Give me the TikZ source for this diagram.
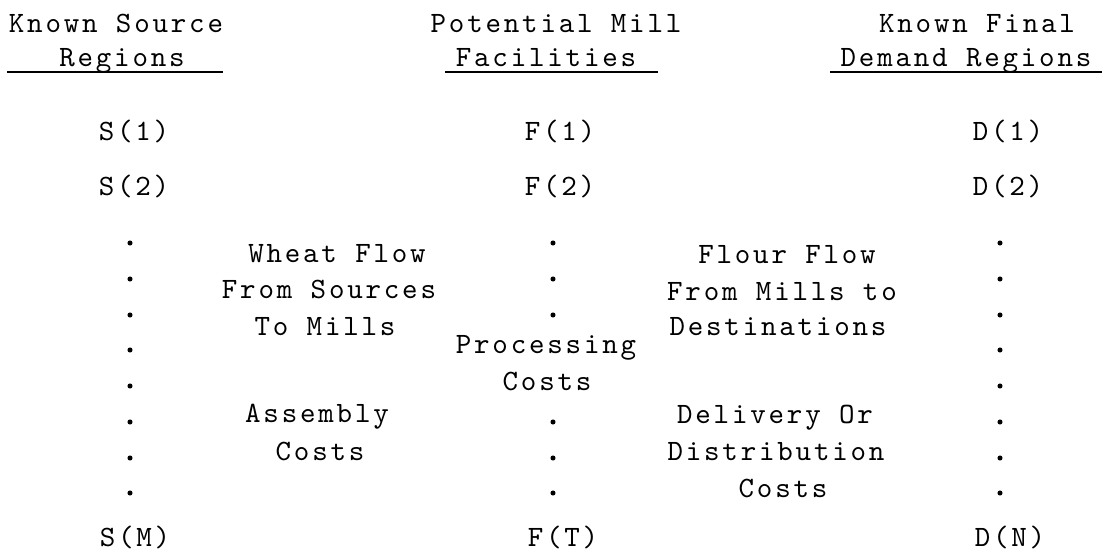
\documentclass[tikz,border=0pt]{standalone}
\usepackage{fontspec}
\newfontfamily\typefont{lmmono10-regular.otf}[LetterSpace=9.5]
\usepackage{tikz}
\tikzset{
  typed/.style={font=\typefont\fontsize{21}{25}\selectfont,inner sep=0pt,anchor=base},
  uline/.style={line width=1.1pt},
}

\begin{document}
\begin{tikzpicture}[x=0.025cm,y=-0.025cm]
    \useasboundingbox (0,0) rectangle (1111,554);
    % column heads
    \node[typed] (srchead) at (116,32){Known Source};
    \node[typed] (srcsub) at (122,66){Regions};
    \draw[uline] (7,72)--(223,72);
    \node[typed] (millhead) at (556,32){Potential Mill};
    \node[typed] (millsub) at (546,66){Facilities};
    \draw[uline] (445,72)--(658,72);
    \node[typed] (demhead) at (977,32){Known Final};
    \node[typed] (demsub) at (966,66){Demand Regions};
    \draw[uline] (830,72)--(1102,72);
    % sources
    \node[typed] (s1) at (134,140){S(1)};
    \node[typed] (s2) at (134,195){S(2)};
    \fill(130,243) circle(1.8pt);
    \fill(130,279) circle(1.8pt);
    \fill(130,315) circle(1.8pt);
    \fill(130,350) circle(1.8pt);
    \fill(130,386) circle(1.8pt);
    \fill(130,422) circle(1.8pt);
    \fill(130,458) circle(1.8pt);
    \fill(130,493) circle(1.8pt);
    \node[typed] (sm) at (135,546){S(M)};
    % mills
    \node[typed] (f1) at (560,140){F(1)};
    \node[typed] (f2) at (560,195){F(2)};
    \fill(553,243) circle(1.8pt);
    \fill(553,279) circle(1.8pt);
    \fill(553,315) circle(1.8pt);
    \node[typed] (proc) at (546,353){Processing};
    \node[typed] (proccost) at (547,390){Costs};
    \fill(553,422) circle(1.8pt);
    \fill(553,458) circle(1.8pt);
    \fill(553,493) circle(1.8pt);
    \node[typed] (ft) at (563,546){F(T)};
    % demand regions
    \node[typed] (d1) at (1008,140){D(1)};
    \node[typed] (d2) at (1008,195){D(2)};
    \fill(1000,243) circle(1.8pt);
    \fill(1000,279) circle(1.8pt);
    \fill(1000,315) circle(1.8pt);
    \fill(1000,350) circle(1.8pt);
    \fill(1000,386) circle(1.8pt);
    \fill(1000,422) circle(1.8pt);
    \fill(1000,458) circle(1.8pt);
    \fill(1000,493) circle(1.8pt);
    \node[typed] (dn) at (1010,546){D(N)};
    % wheat flow
    \node[typed] (wheat1) at (337,262){Wheat Flow};
    \node[typed] (wheat2) at (329,298){From Sources};
    \node[typed] (wheat3) at (325,335){To Mills};
    \node[typed] (asm1) at (317,422){Assembly};
    \node[typed] (asm2) at (320,460){Costs};
    % flour flow
    \node[typed] (flour1) at (787,263){Flour Flow};
    \node[typed] (flour2) at (782,300){From Mills to};
    \node[typed] (flour3) at (778,335){Destinations};
    \node[typed] (del1) at (775,423){Delivery Or};
    \node[typed] (del2) at (776,460){Distribution};
    \node[typed] (del3) at (783,497){Costs};
\end{tikzpicture}
\end{document}
